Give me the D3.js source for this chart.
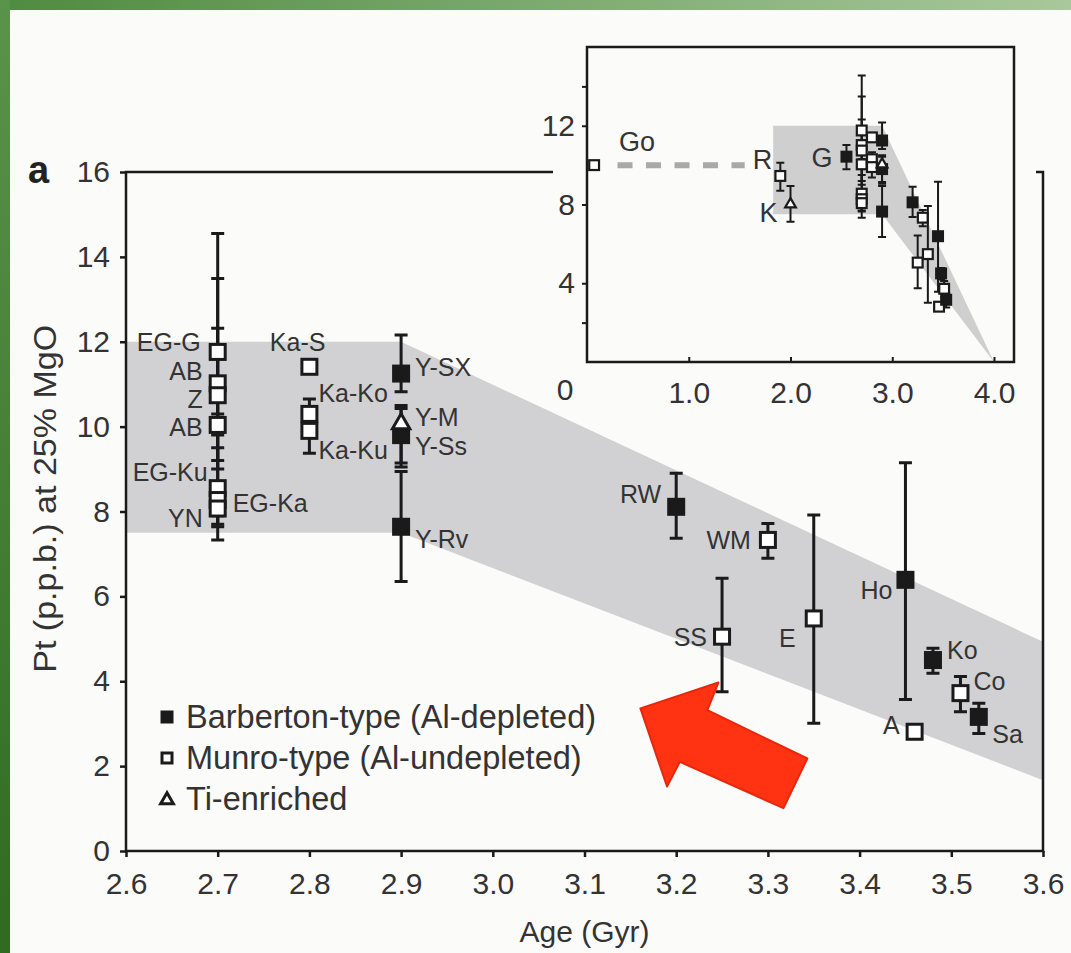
<!DOCTYPE html>
<meta charset="utf-8">
<script src="https://cdn.jsdelivr.net/npm/d3@7"></script>
<style>
  body { margin: 0; background: #fbfbfa; }
  svg { display: block; font-family: "Liberation Sans", Arial, sans-serif; }
</style>
<svg width="1071" height="953"></svg>
<script>
// main panel: komatiite suites
var names  = ["EG-G","AB","Z","AB","EG-Ku","EG-Ka","YN","Ka-S","Ka-Ko","Ka-Ku","Y-SX","Y-M","Y-Ss","Y-Rv","RW","WM","SS","E","Ho","Ko","Co","A","Sa"];
var age    = [2.7, 2.7, 2.7, 2.7, 2.7, 2.7, 2.7, 2.8, 2.8, 2.8, 2.9, 2.9, 2.9, 2.9, 3.2, 3.3, 3.25, 3.35, 3.45, 3.48, 3.51, 3.46, 3.53];
var pt     = [11.76, 11.02, 10.74, 10.04, 8.55, 8.27, 8.07, 11.41, 10.3, 9.9, 11.25, 10.09, 9.8, 7.64, 8.11, 7.33, 5.05, 5.48, 6.39, 4.5, 3.72, 2.81, 3.16];
var ptLow  = [9.2, 7.64, 9.0, 9.8, 7.33, 7.9, 7.7, null, 10.0, 9.37, 10.82, 9.14, 9.05, 6.35, 7.37, 6.9, 3.75, 3.01, 3.57, 4.19, 3.28, null, 2.77];
var ptHigh = [12.32, 14.55, 13.49, 10.3, 9.5, 8.6, 8.5, null, 10.65, 10.2, 12.16, 10.5, 10.43, 8.94, 8.9, 7.72, 6.43, 7.92, 9.15, 4.78, 4.11, null, 3.48];
var kind   = ["M","M","M","M","M","M","M","M","M","M","B","T","B","B","B","M","M","M","B","B","M","M","B"];

// label placement (layout only)
var labelPos = [[-17,-10,"end"],[-15,-12,"end"],[-15,4,"end"],[-15,2,"end"],[-10,-16,"end"],[15,3,"start"],[-15,9,"end"],
  [16,-25,"end"],[9,-21,"start"],[9,19,"start"],[14,-7,"start"],[14,-6,"start"],[14,11,"start"],[14,12,"start"],
  [-15,-13,"end"],[-17,0,"end"],[-15,0,"end"],[-18,20,"end"],[-13,10,"end"],[14,-10,"start"],[13,-12,"start"],[-15,-7,"end"],[13.5,17,"start"]];

// shaded field
var bandUpper = [[2.6, 12], [2.9, 12], [3.6, 4.93]];
var bandLower = [[2.6, 7.5], [2.9, 7.5], [3.6, 1.67]];

// inset: extra younger suites
var insetNames = ["Go", "R", "K", "G"];
var insetAge   = [0.07, 1.9, 2.0, 2.55];
var insetPt    = [10.0, 9.45, 8.06, 10.43];
var insetLow   = [null, 8.7, 7.13, 9.79];
var insetHigh  = [null, 10.12, 8.94, 11.02];
var insetKind  = ["M", "M", "T", "B"];
var insetLabelPos = [[25,-23,"start"],[-8,-16,"end"],[-13,10,"end"],[-14,1,"end"]];
var insetBandUpper = [[1.83, 12], [2.9, 12], [4.0, 0]];
var insetBandLower = [[1.83, 7.5], [2.9, 7.5], [4.0, 0]];
var goLine = [[0.3, 10], [1.55, 10]];

var xTicks = [2.6, 2.7, 2.8, 2.9, 3.0, 3.1, 3.2, 3.3, 3.4, 3.5, 3.6];
var yTicks = [0, 2, 4, 6, 8, 10, 12, 14, 16];
var insetXTicks = [1, 2, 3, 4];
var insetYTicks = [2, 4, 8, 12, 14];
var insetYLabels = [4, 8, 12];

var legendItems = [["B", "Barberton-type (Al-depleted)"], ["M", "Munro-type (Al-undepleted)"], ["T", "Ti-enriched"]];

// annotation arrow, in data units of the main panel
var arrow = [[3.161, 3.36], [3.246, 3.97], [3.234, 3.32], [3.343, 2.18], [3.317, 1.01], [3.204, 2.10], [3.190, 1.52]];

var ink = "#1a1a1a", textInk = "#333";
var svg = d3.select("svg");

// green slide frame
var defs = svg.append("defs");
var gt = defs.append("linearGradient").attr("id", "gtop");
gt.append("stop").attr("offset", 0).attr("stop-color", "#4f8b40");
gt.append("stop").attr("offset", 1).attr("stop-color", "#a9c89d");
var gl = defs.append("linearGradient").attr("id", "gleft").attr("x1", 0).attr("x2", 0).attr("y1", 0).attr("y2", 1);
gl.append("stop").attr("offset", 0).attr("stop-color", "#5a944a");
gl.append("stop").attr("offset", 1).attr("stop-color", "#2e6b20");
svg.append("rect").attr("width", 1071).attr("height", 10).attr("fill", "url(#gtop)");
svg.append("rect").attr("width", 10).attr("height", 953).attr("fill", "url(#gleft)");

var x = d3.scaleLinear().domain([2.6, 3.6]).range([126, 1043]);
var y = d3.scaleLinear().domain([0, 16]).range([851, 172]);

function band(g, sx, sy, up, low, fill) {
  var pts = up.concat(low.slice().reverse());
  g.append("path").attr("d", d3.line().x(function(d) { return sx(d[0]); }).y(function(d) { return sy(d[1]); })(pts) + "Z")
    .attr("fill", fill);
}
band(svg, x, y, bandUpper, bandLower, "#d1d1d3");

// axes
var gx = svg.append("g").attr("transform", "translate(0,851)")
  .call(d3.axisBottom(x).tickValues(xTicks).tickFormat(d3.format(".1f")).tickSize(6).tickPadding(16));
var gy = svg.append("g").attr("transform", "translate(126,0)")
  .call(d3.axisLeft(y).tickValues(yTicks).tickSize(6).tickPadding(10));
[gx, gy].forEach(function(g) {
  g.select(".domain").remove();
  g.selectAll("line").attr("stroke", ink).attr("stroke-width", 2.5);
  g.selectAll("text").attr("fill", textInk).attr("font-size", 30).attr("font-family", "Liberation Sans, Arial, sans-serif");
});
svg.append("path").attr("d", "M" + x(2.6) + "," + y(16) + "V" + y(0) + "H" + x(3.6) + "V" + y(16) + "Z")
  .attr("fill", "none").attr("stroke", ink).attr("stroke-width", 2.5);

svg.append("text").attr("x", x(3.1)).attr("y", 942).attr("text-anchor", "middle")
  .attr("font-size", 30).attr("fill", textInk).text("Age (Gyr)");
svg.append("text").attr("transform", "translate(45," + y(8.3) + ") rotate(-90)").attr("text-anchor", "middle")
  .attr("dominant-baseline", "central").attr("font-size", 31).attr("textLength", 348).attr("lengthAdjust", "spacingAndGlyphs")
  .attr("fill", textInk).text("Pt (p.p.b.) at 25% MgO");
svg.append("text").attr("x", 28).attr("y", 183).attr("font-size", 38).attr("font-weight", "bold")
  .attr("fill", "#222").text("a");

function errorBars(g, sx, sy, xs, lo, hi, cap, sw) {
  xs.forEach(function(v, i) {
    if (lo[i] == null) return;
    var cx = sx(v), y0 = sy(lo[i]), y1 = sy(hi[i]);
    g.append("path").attr("d", "M" + cx + "," + y0 + "V" + y1 + "M" + (cx - cap / 2) + "," + y0 + "h" + cap + "M" + (cx - cap / 2) + "," + y1 + "h" + cap)
      .attr("stroke", ink).attr("stroke-width", sw).attr("fill", "none");
  });
}
function markers(g, sx, sy, xs, ys, kinds, sq, sw, tri) {
  var order = d3.range(xs.length).sort(function(a, b) { return (kinds[a] === "T") - (kinds[b] === "T"); });
  order.forEach(function(i) {
    var k = kinds[i], cx = sx(xs[i]), cy = sy(ys[i]);
    if (k === "T") {
      g.append("path").attr("transform", "translate(" + cx + "," + (cy + 1) + ")")
        .attr("d", d3.symbol(d3.symbolTriangle, tri)()).attr("fill", "#fff").attr("stroke", ink).attr("stroke-width", sw);
    } else {
      var s = sq - sw;
      g.append("rect").attr("x", cx - s / 2).attr("y", cy - s / 2).attr("width", s).attr("height", s)
        .attr("fill", k === "B" ? ink : "#fff").attr("stroke", ink).attr("stroke-width", sw);
    }
  });
}
function labels(g, sx, sy, xs, ys, txt, pos, size) {
  txt.forEach(function(t, i) {
    g.append("text").attr("x", sx(xs[i]) + pos[i][0]).attr("y", sy(ys[i]) + pos[i][1])
      .attr("text-anchor", pos[i][2]).attr("dominant-baseline", "central")
      .attr("font-size", size).attr("fill", textInk).text(t);
  });
}

var main = svg.append("g");
errorBars(main, x, y, age, ptLow, ptHigh, 13, 3);
markers(main, x, y, age, pt, kind, 18, 3, 130);
labels(main, x, y, age, pt, names, labelPos, 25);

// legend
var leg = svg.append("g");
legendItems.forEach(function(d, i) {
  var cy = 717 + i * 41;
  markers(leg, function(v) { return v; }, function(v) { return v; }, [167], [cy], [d[0]], 13, 3, 70);
  leg.append("text").attr("x", 186).attr("y", cy).attr("dominant-baseline", "central")
    .attr("font-size", 32.5).attr("fill", textInk).text(d[1]);
});

// arrow
svg.append("path").attr("d", d3.line().x(function(d) { return x(d[0]); }).y(function(d) { return y(d[1]); })(arrow) + "Z")
  .attr("fill", "#ff3311").attr("stroke", "#e8260c").attr("stroke-width", 2).attr("stroke-linejoin", "round");

// inset
var xi = d3.scaleLinear().domain([0, 4]).range([587, 994]);
var yi = d3.scaleLinear().domain([0, 16]).range([362, 47]);
var inset = svg.append("g");
inset.append("rect").attr("x", 553).attr("y", 12).attr("width", 483).attr("height", 400).attr("fill", "#fbfbfa");
band(inset, xi, yi, insetBandUpper, insetBandLower, "#cfcfd0");
inset.append("path").attr("d", d3.line().x(function(d) { return xi(d[0]); }).y(function(d) { return yi(d[1]); })(goLine))
  .attr("stroke", "#a9a9a9").attr("stroke-width", 6).attr("stroke-dasharray", "15,13.5");
var ix = inset.append("g").attr("transform", "translate(0," + yi(0) + ")")
  .call(d3.axisBottom(xi).tickValues(insetXTicks).tickFormat(d3.format(".1f")).tickSize(-5).tickPadding(20));
var iy = inset.append("g").attr("transform", "translate(" + xi(0) + ",0)")
  .call(d3.axisLeft(yi).tickValues(insetYTicks).tickFormat(function(d) { return insetYLabels.indexOf(d) >= 0 ? d : ""; }).tickSize(5).tickPadding(7));
[ix, iy].forEach(function(g) {
  g.select(".domain").remove();
  g.selectAll("line").attr("stroke", ink).attr("stroke-width", 2);
  g.selectAll("text").attr("fill", textInk).attr("font-size", 30).attr("font-family", "Liberation Sans, Arial, sans-serif");
});
inset.append("text").attr("x", xi(0) - 22).attr("y", 400).attr("text-anchor", "middle")
  .attr("font-size", 30).attr("fill", textInk).text("0");
inset.append("rect").attr("x", xi(0)).attr("y", yi(16)).attr("width", 427).attr("height", yi(0) - yi(16))
  .attr("fill", "none").attr("stroke", ink).attr("stroke-width", 2.5);
errorBars(inset, xi, yi, age, ptLow, ptHigh, 8, 2);
errorBars(inset, xi, yi, insetAge, insetLow, insetHigh, 8, 2);
markers(inset, xi, yi, age, pt, kind, 12, 2.2, 50);
markers(inset, xi, yi, insetAge, insetPt, insetKind, 12, 2.2, 50);
labels(inset, xi, yi, insetAge, insetPt, insetNames, insetLabelPos, 27);
</script>
